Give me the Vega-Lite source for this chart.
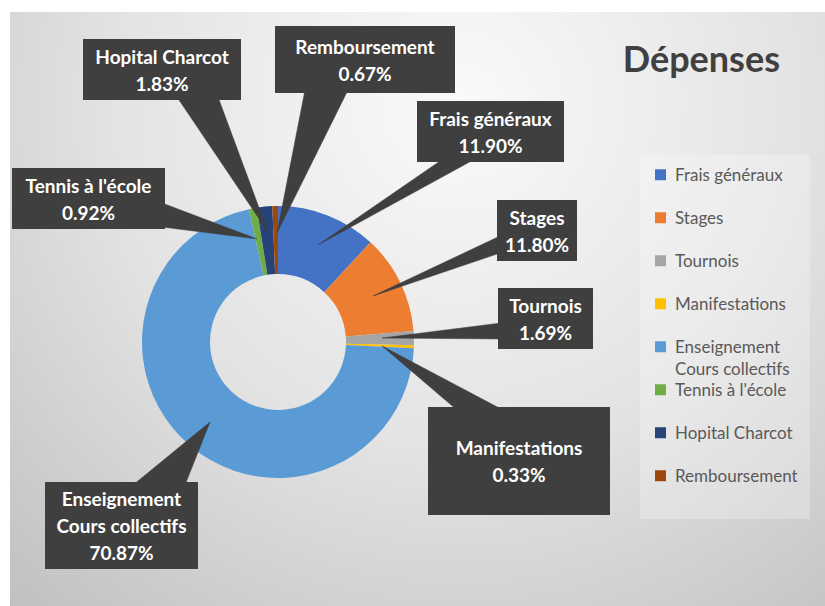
{
  "$schema": "https://vega.github.io/schema/vega-lite/v6.json",
  "width": 825,
  "height": 606,
  "autosize": {"type": "fit", "contains": "padding"},
  "padding": {"left": 10, "top": 12, "right": 0, "bottom": 0},
  "background": "#FFFFFF",
  "title": {
    "text": "Dépenses",
    "orient": "top",
    "anchor": "end",
    "frame": "group",
    "baseline": "alphabetic",
    "offset": -96,
    "dx": -45,
    "font": "Lato",
    "fontSize": 36,
    "fontWeight": "bold",
    "color": "#404040"
  },
  "config": {
    "view": {
      "stroke": null,
      "fill": {
        "gradient": "radial",
        "x1": 0.55, "y1": 0.25, "r1": 0,
        "x2": 0.55, "y2": 0.25, "r2": 0.85,
        "stops": [
          {"offset": 0, "color": "#FAFAFA"},
          {"offset": 0.5, "color": "#E3E3E3"},
          {"offset": 1, "color": "#BEBEBE"}
        ]
      }
    },
    "style": {"guide-label": {"lineHeight": 22}},
    "font": "Lato"
  },
  "datasets": {
    "depenses": [
      {"poste": "Frais généraux", "pct": 11.90, "ordre": 1},
      {"poste": "Stages", "pct": 11.80, "ordre": 2},
      {"poste": "Tournois", "pct": 1.69, "ordre": 3},
      {"poste": "Manifestations", "pct": 0.33, "ordre": 4},
      {"poste": "Enseignement\nCours collectifs", "pct": 70.87, "ordre": 5},
      {"poste": "Tennis à l'école", "pct": 0.92, "ordre": 6},
      {"poste": "Hopital Charcot", "pct": 1.83, "ordre": 7},
      {"poste": "Remboursement", "pct": 0.67, "ordre": 8}
    ],
    "callouts": [
      {"poste": "Frais généraux", "x1": 1.39, "x2": 2.86, "y1": 2.41, "y2": 1.80},
      {"poste": "Stages", "x1": 2.19, "x2": 2.99, "y1": 1.42, "y2": 0.81},
      {"poste": "Tournois", "x1": 2.20, "x2": 3.15, "y1": 0.54, "y2": -0.07},
      {"poste": "Manifestations", "x1": 1.50, "x2": 3.32, "y1": -0.65, "y2": -1.73},
      {"poste": "Enseignement\nCours collectifs", "x1": -2.33, "x2": -0.80, "y1": -1.40, "y2": -2.27},
      {"poste": "Tennis à l'école", "x1": -2.66, "x2": -1.13, "y1": 1.74, "y2": 1.13},
      {"poste": "Hopital Charcot", "x1": -1.95, "x2": -0.37, "y1": 3.03, "y2": 2.42},
      {"poste": "Remboursement", "x1": -0.03, "x2": 1.77, "y1": 3.16, "y2": 2.49}
    ],
    "pointeurs": [
      {"poste": "Frais généraux", "pt": 1, "px": 1.65, "py": 1.83},
      {"poste": "Frais généraux", "pt": 2, "px": 0.40, "py": 0.97},
      {"poste": "Frais généraux", "pt": 3, "px": 1.97, "py": 1.83},
      {"poste": "Stages", "pt": 1, "px": 2.22, "py": 1.06},
      {"poste": "Stages", "pt": 2, "px": 0.95, "py": 0.46},
      {"poste": "Stages", "pt": 3, "px": 2.22, "py": 0.89},
      {"poste": "Tournois", "pt": 1, "px": 2.23, "py": 0.19},
      {"poste": "Tournois", "pt": 2, "px": 1.04, "py": 0.04},
      {"poste": "Tournois", "pt": 3, "px": 2.23, "py": 0.03},
      {"poste": "Manifestations", "pt": 1, "px": 1.79, "py": -0.68},
      {"poste": "Manifestations", "pt": 2, "px": 1.04, "py": -0.04},
      {"poste": "Manifestations", "pt": 3, "px": 2.25, "py": -0.68},
      {"poste": "Enseignement", "pt": 1, "px": -1.45, "py": -1.43},
      {"poste": "Enseignement", "pt": 2, "px": -0.68, "py": -0.80},
      {"poste": "Enseignement", "pt": 3, "px": -0.93, "py": -1.43},
      {"poste": "Tennis", "pt": 1, "px": -1.16, "py": 1.39},
      {"poste": "Tennis", "pt": 2, "px": -0.21, "py": 1.03},
      {"poste": "Tennis", "pt": 3, "px": -1.16, "py": 1.15},
      {"poste": "Hopital", "pt": 1, "px": -1.01, "py": 2.45},
      {"poste": "Hopital", "pt": 2, "px": -0.10, "py": 1.10},
      {"poste": "Hopital", "pt": 3, "px": -0.60, "py": 2.45},
      {"poste": "Remboursement", "pt": 1, "px": 0.27, "py": 2.52},
      {"poste": "Remboursement", "pt": 2, "px": -0.01, "py": 1.09},
      {"poste": "Remboursement", "pt": 3, "px": 0.70, "py": 2.52}
    ]
  },
  "layer": [
    {
      "data": {"name": "depenses"},
      "mark": {"type": "arc", "innerRadius": 68, "outerRadius": 136, "strokeWidth": 0},
      "encoding": {
        "theta": {"field": "pct", "type": "quantitative", "stack": true},
        "order": {"field": "ordre", "type": "quantitative"},
        "color": {
          "field": "poste",
          "type": "nominal",
          "sort": null,
          "scale": {
            "domain": ["Frais généraux", "Stages", "Tournois", "Manifestations", "Enseignement\nCours collectifs", "Tennis à l'école", "Hopital Charcot", "Remboursement"],
            "range": ["#4472C4", "#ED7D31", "#A5A5A5", "#FFC000", "#5B9BD5", "#70AD47", "#264478", "#9E480E"]
          },
          "legend": {
            "orient": "none",
            "legendX": 630,
            "legendY": 143,
            "title": null,
            "symbolType": "M-1,0.33H1V2.33H-1Z",
            "symbolSize": 121,
            "symbolStrokeWidth": 0,
            "labelFont": "Lato",
            "labelFontSize": 17,
            "labelColor": "#595959",
            "labelOffset": 6,
            "labelBaseline": "top",
            "labelLimit": 0,
            "labelExpr": "indexof(datum.label, '\\n') >= 0 ? split(datum.label, '\\n') : [datum.label, ' ']",
            "clipHeight": 1,
            "rowPadding": 3.0,
            "padding": 12,
            "fillColor": "rgba(255,255,255,0.25)"
          }
        },
        "x": {"datum": 0, "type": "quantitative", "scale": {"domain": [-2.68, 5.47], "nice": false, "zero": false}, "axis": null},
        "y": {"datum": 0, "type": "quantitative", "scale": {"domain": [-2.64, 3.30], "nice": false, "zero": false}, "axis": null}
      }
    },
    {
      "data": {"name": "pointeurs"},
      "mark": {"type": "line", "fill": "#3F3F3F", "stroke": "#3F3F3F", "strokeWidth": 0.5, "interpolate": "linear"},
      "encoding": {
        "x": {"field": "px", "type": "quantitative"},
        "y": {"field": "py", "type": "quantitative"},
        "detail": {"field": "poste"},
        "order": {"field": "pt", "type": "quantitative"}
      }
    },
    {
      "data": {"name": "callouts"},
      "mark": {"type": "rect", "color": "#000000", "opacity": 0.22, "xOffset": 3, "yOffset": 3},
      "encoding": {
        "x": {"field": "x1", "type": "quantitative"},
        "x2": {"field": "x2"},
        "y": {"field": "y1", "type": "quantitative"},
        "y2": {"field": "y2"}
      }
    },
    {
      "data": {"name": "callouts"},
      "mark": {"type": "rect", "color": "#3F3F3F", "opacity": 1},
      "encoding": {
        "x": {"field": "x1", "type": "quantitative"},
        "x2": {"field": "x2"},
        "y": {"field": "y1", "type": "quantitative"},
        "y2": {"field": "y2"}
      }
    },
    {
      "data": {"name": "callouts"},
      "transform": [
        {"lookup": "poste", "from": {"data": {"name": "depenses"}, "key": "poste", "fields": ["pct"]}},
        {"calculate": "datum.poste + '\\n' + format(datum.pct, '.2f') + '%'", "as": "txt"},
        {"calculate": "(datum.x1 + datum.x2) / 2", "as": "cx"},
        {"calculate": "(datum.y1 + datum.y2) / 2 + (length(split(datum.txt, '\\n')) - 1) * 0.135", "as": "cy"}
      ],
      "mark": {"type": "text", "font": "Lato", "fontSize": 19, "fontWeight": "bold", "color": "#FFFFFF", "align": "center", "baseline": "middle", "lineBreak": "\n", "lineHeight": 27, "dy": 1.5},
      "encoding": {
        "x": {"field": "cx", "type": "quantitative"},
        "y": {"field": "cy", "type": "quantitative"},
        "text": {"field": "txt"}
      }
    }
  ]
}
